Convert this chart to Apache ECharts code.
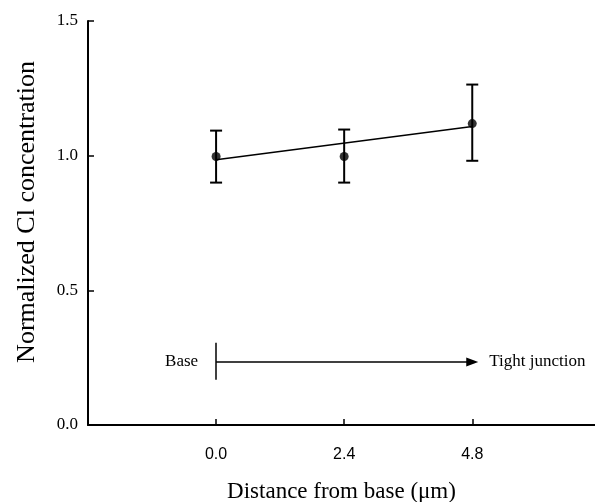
<!DOCTYPE html>
<html>
<head>
<meta charset="utf-8">
<script src="https://cdn.jsdelivr.net/npm/echarts@6/dist/echarts.min.js"></script>
<style>
  html, body { margin: 0; padding: 0; background: #fff; }
  #chart { width: 595px; height: 502px; }
</style>
</head>
<body>
<div id="chart"></div>
<script>
// measured points (distance in um, normalized Cl)
const distance = [0, 2.4, 4.8];
const meanCl = [0.997, 0.997, 1.119];
const errLow = [0.9, 0.9, 0.981];
const errHigh = [1.093, 1.097, 1.264];
// fitted line end points
const fitX = [0, 4.8];
const fitY = [0.985, 1.108];
// ticks
const xTicks = [0, 2.4, 4.8];
const yTicks = [0, 0.5, 1.0, 1.5];
// base -> tight junction arrow
const arrowX = [0, 4.8];
const arrowY = 0.234;
const baseMarkY = [0.168, 0.305];

const chart = echarts.init(document.getElementById("chart"));

const serif = "'Liberation Serif', 'DejaVu Serif', serif";
const sans = "'Liberation Sans', Arial, sans-serif";

const option = {
  animation: false,
  grid: { left: 88, right: 0, top: 21, bottom: 77, outerBoundsMode: "none", containLabel: false },
  xAxis: {
    type: "value",
    min: -2.4,
    max: 7.1,
    name: "Distance from base (\u03bcm)",
    nameLocation: "middle",
    nameGap: 55,
    nameTextStyle: { fontFamily: serif, fontSize: 23, color: "#000" },
    axisLine: { onZero: false, lineStyle: { color: "#000", width: 2 } },
    axisTick: { inside: true, length: 6, customValues: xTicks, lineStyle: { color: "#000", width: 1.5 } },
    axisLabel: {
      customValues: xTicks,
      margin: 22,
      fontFamily: sans,
      fontSize: 16,
      color: "#000",
      formatter: (v) => v.toFixed(1),
    },
    splitLine: { show: false },
  },
  yAxis: {
    type: "value",
    min: 0,
    max: 1.5,
    interval: 0.5,
    name: "Normalized Cl concentration",
    nameLocation: "middle",
    nameGap: 48,
    nameTextStyle: { fontFamily: serif, fontSize: 26, color: "#000", padding: [0, 0, 0, 22] },
    axisLine: { show: true, onZero: false, lineStyle: { color: "#000", width: 2 } },
    axisTick: { show: true, inside: true, length: 6, customValues: yTicks, lineStyle: { color: "#000", width: 1.5 } },
    axisLabel: {
      customValues: yTicks,
      margin: 10,
      fontFamily: serif,
      fontSize: 17,
      color: "#000",
      formatter: (v) => v.toFixed(1),
    },
    splitLine: { show: false },
  },
  series: [
    {
      type: "line",
      data: fitX.map((x, i) => [x, fitY[i]]),
      symbol: "none",
      lineStyle: { color: "#000", width: 1.5 },
      z: 2,
    },
    {
      type: "custom",
      data: distance.map((x, i) => [x, errLow[i], errHigh[i]]),
      renderItem: (params, api) => {
        const lo = api.coord([api.value(0), api.value(1)]);
        const hi = api.coord([api.value(0), api.value(2)]);
        const cap = 6;
        const style = { stroke: "#000", lineWidth: 2 };
        return {
          type: "group",
          children: [
            { type: "line", shape: { x1: lo[0], y1: lo[1], x2: hi[0], y2: hi[1] }, style },
            { type: "line", shape: { x1: lo[0] - cap, y1: lo[1], x2: lo[0] + cap, y2: lo[1] }, style },
            { type: "line", shape: { x1: hi[0] - cap, y1: hi[1], x2: hi[0] + cap, y2: hi[1] }, style },
          ],
        };
      },
      z: 3,
    },
    {
      type: "scatter",
      data: distance.map((x, i) => [x, meanCl[i]]),
      symbol: "circle",
      symbolSize: 9,
      itemStyle: { color: "#000" },
      z: 4,
    },
    {
      // annotation: base marker and arrow
      type: "line",
      data: [],
      markLine: {
        silent: true,
        animation: false,
        label: { show: false },
        data: [
          [
            { coord: [arrowX[0], arrowY], symbol: "none" },
            { coord: [arrowX[1], arrowY], symbol: "triangle", symbolSize: [9, 12] },
          ],
          [
            { coord: [arrowX[0], baseMarkY[0]], symbol: "none" },
            { coord: [arrowX[0], baseMarkY[1]], symbol: "none" },
          ],
        ],
        lineStyle: { color: "#000", width: 1.5, type: "solid" },
        itemStyle: { color: "#000" },
      },
      markPoint: {
        silent: true,
        symbol: "rect",
        symbolSize: 0,
        data: [
          {
            coord: [arrowX[0], arrowY],
            label: {
              show: true, formatter: "Base", position: "left", distance: 18,
              fontFamily: serif, fontSize: 17, color: "#000",
            },
          },
          {
            coord: [arrowX[1], arrowY],
            label: {
              show: true, formatter: "Tight junction", position: "right", distance: 17,
              fontFamily: serif, fontSize: 17, color: "#000",
            },
          },
        ],
      },
    },
  ],
};

chart.setOption(option);
</script>
</body>
</html>
